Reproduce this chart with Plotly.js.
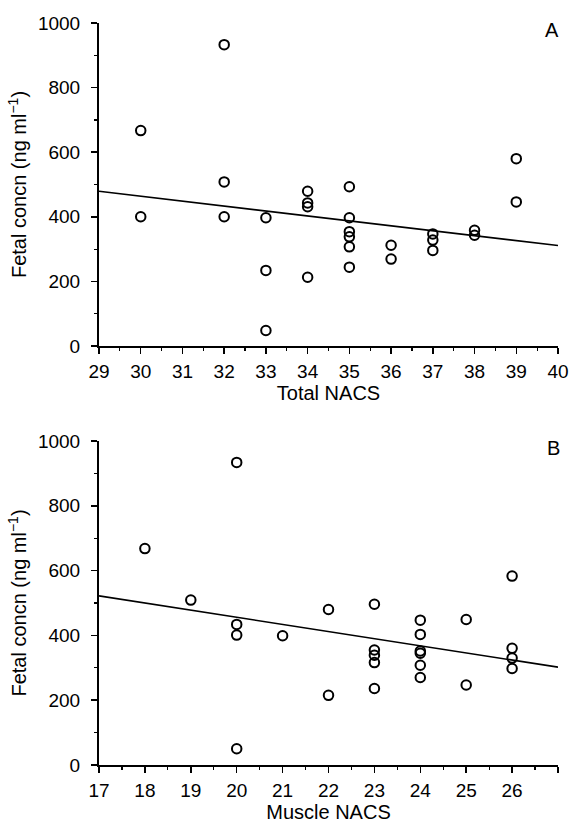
<!DOCTYPE html>
<html>
<head>
<meta charset="utf-8">
<script src="https://cdn.plot.ly/plotly-3.0.1.min.js"></script>
<style>html,body{margin:0;padding:0;background:#fff;}#chart{width:572px;height:824px;}</style>
</head>
<body>
<div id="chart"></div>
<script>
// Panel A: Total NACS vs fetal concentration
const totalNACS = [30,30, 32,32,32, 33,33,33, 34,34,34,34, 35,35,35,35,35,35, 36,36, 37,37,37, 38,38, 39,39];
const fetalA    = [667,400, 933,508,400, 397,234,48, 479,443,431,213, 493,397,354,338,307,244, 312,269, 347,328,296, 358,343, 580,446];
const fitA_x = [29, 40];
const fitA_y = [479, 311];

// Panel B: Muscle NACS vs fetal concentration
const muscleNACS = [18, 19, 20,20,20,20, 21, 22,22, 23,23,23,23,23, 24,24,24,24,24,24, 25,25, 26,26,26,26];
const fetalB     = [668, 509, 934,434,401,50, 399, 480,215, 496,355,339,316,236, 447,403,352,345,308,270, 449,247, 583,360,330,298];
const fitB_x = [17, 27];
const fitB_y = [522, 302];

const xTicksA = [29,30,31,32,33,34,35,36,37,38,39,40];
const xTickTextA = ['29','30','31','32','33','34','35','36','37','38','39','40'];
const xTicksB = [17,18,19,20,21,22,23,24,25,26,27];
const xTickTextB = ['17','18','19','20','21','22','23','24','25','26',' '];
const yTicks = [0,200,400,600,800,1000];
const yTickText = ['0','200','400','600','800','1000'];

const FONT = 'Liberation Sans, Arial, Helvetica, sans-serif';
const marker = {symbol:'circle-open', size:9.5, color:'#000', line:{width:2, color:'#000'}};
const lineStyle = {color:'#000', width:1.6};

const traces = [
  {x: totalNACS, y: fetalA, mode:'markers', type:'scatter', marker: marker, xaxis:'x', yaxis:'y', cliponaxis:false},
  {x: fitA_x, y: fitA_y, mode:'lines', type:'scatter', line: lineStyle, xaxis:'x', yaxis:'y'},
  {x: muscleNACS, y: fetalB, mode:'markers', type:'scatter', marker: marker, xaxis:'x2', yaxis:'y2', cliponaxis:false},
  {x: fitB_x, y: fitB_y, mode:'lines', type:'scatter', line: lineStyle, xaxis:'x2', yaxis:'y2'}
];

function xAxis(range, tickvals, ticktext, title, domain, anchor) {
  return {
    domain: domain, anchor: anchor, range: range,
    tickmode:'array', tickvals: tickvals, ticktext: ticktext,
    ticks:'outside', ticklen:6, tickwidth:1.5, tickcolor:'#000',
    minor:{dtick:0.5, tick0:range[0], ticks:'outside', ticklen:3, tickwidth:1.2, tickcolor:'#000', showgrid:false},
    showline:true, linecolor:'#000', linewidth:2, showgrid:false, zeroline:false,
    tickfont:{family:FONT, size:19, color:'#000'},
    ticklabelstandoff: 1,
    title:{text:title, font:{family:FONT, size:20, color:'#000'}, standoff:3},
    automargin:false, fixedrange:true
  };
}
function yAxis(domain, anchor) {
  return {
    domain: domain, anchor: anchor, range:[0,1000],
    tickmode:'array', tickvals: yTicks, ticktext: yTickText,
    ticks:'outside', ticklen:6, tickwidth:1.5, tickcolor:'#000',
    minor:{dtick:100, tick0:0, ticks:'outside', ticklen:3, tickwidth:1.2, tickcolor:'#000', showgrid:false},
    showline:true, linecolor:'#000', linewidth:2, showgrid:false, zeroline:false,
    tickfont:{family:FONT, size:19, color:'#000'},
    ticklabelstandoff: 7,
    title:{text:'Fetal concn (ng ml<sup>−1</sup>)', font:{family:FONT, size:20, color:'#000'}, standoff:6},
    automargin:false, fixedrange:true
  };
}

const xDom = [99/572, 558/572];
const layout = {
  width:572, height:824,
  margin:{l:0, r:0, t:0, b:0, pad:0},
  paper_bgcolor:'#fff', plot_bgcolor:'#fff',
  showlegend:false,
  font:{family:FONT, color:'#000'},
  xaxis: xAxis([29,40], xTicksA, xTickTextA, 'Total NACS', xDom, 'y'),
  yaxis: yAxis([1-346/824, 1-23/824], 'x'),
  xaxis2: xAxis([17,27], xTicksB, xTickTextB, 'Muscle NACS', xDom, 'y2'),
  yaxis2: yAxis([1-765/824, 1-441/824], 'x2'),
  annotations:[
    {text:'A', xref:'paper', yref:'paper', x:552/572, y:1-30/824, xanchor:'center', yanchor:'middle', showarrow:false, font:{family:FONT, size:20, color:'#000'}},
    {text:'B', xref:'paper', yref:'paper', x:553/572, y:1-448/824, xanchor:'center', yanchor:'middle', showarrow:false, font:{family:FONT, size:20, color:'#000'}}
  ]
};

Plotly.newPlot('chart', traces, layout, {staticPlot:true, displayModeBar:false});
</script>
</body>
</html>
